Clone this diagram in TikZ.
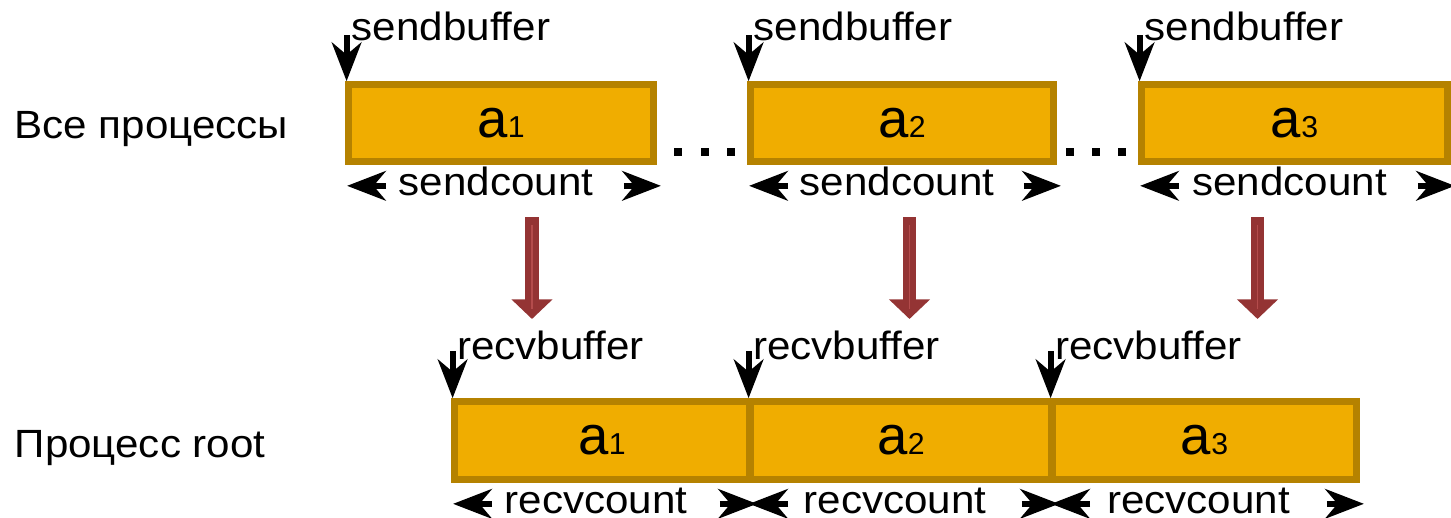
\documentclass[tikz,border=0pt]{standalone}
\usepackage{fontspec}
\setmainfont{Liberation Sans}
\usetikzlibrary{arrows.meta,calc}
\definecolor{boxdark}{HTML}{B58200}
\definecolor{boxfill}{HTML}{F0AD00}
\definecolor{redarr}{HTML}{943434}
\definecolor{redline}{HTML}{B44C4C}
\newcommand{\hs}[1]{\scalebox{1.07}[1]{#1}}
\newcommand{\elem}[1]{\raisebox{-1pt}{\fontsize{15.5}{16}\selectfont a\fontsize{8.6}{9}\selectfont #1}}
\tikzset{
  lbl/.style={inner sep=0pt, anchor=base west, font=\fontsize{11.2}{13}\selectfont},
  membox/.style={draw=boxdark, fill=boxfill, line width=1.6pt, inner sep=0pt, minimum height=0.78cm},
  innerline/.style={draw=boxdark, line width=0.45pt},
  ptr/.style={line width=1.7pt, -{Stealth[length=11pt, width=8.4pt, inset=3.5pt]}},
  redarrow/.style={draw=redarr, line width=3.7pt, -{Triangle[length=5.6pt, width=11.4pt]}},
  dotsq/.style={rectangle, fill=black, inner sep=0pt, minimum size=0.08cm},
}
\begin{document}
\begin{tikzpicture}[x=0.01cm, y=-0.01cm]
\useasboundingbox (0,0) rectangle (1451,518);

% row labels
\node[lbl] (lall) at (14,138) {\hs{Все процессы}};
\node[lbl] (lroot) at (14,457) {\hs{Процесс root}};

% top boxes
\node[membox, minimum width=3.06cm] (s1) at (501,123) {\elem{1}};
\node[membox, minimum width=3.04cm] (s2) at (902,123) {\elem{2}};
\node[membox, minimum width=3.07cm] (s3) at (1294.5,123) {\elem{3}};

% bottom boxes
\node[membox, minimum width=2.96cm, minimum height=0.79cm] (r1) at (602,440.5) {\elem{1}};
\node[membox, minimum width=3.02cm, minimum height=0.79cm] (r2) at (901,440.5) {\elem{2}};
\node[membox, minimum width=3.05cm, minimum height=0.79cm] (r3) at (1204.5,440.5) {\elem{3}};

% inner lines
\foreach \n in {s1,s2,s3,r1,r2,r3}{
  \draw[innerline] ($(\n.north west)+(6,6)$) rectangle ($(\n.south east)+(-6,-6)$);
}

% sendbuffer / sendcount
\foreach \n in {s1,s2,s3}{
  \node[lbl] (\n buf) at ($(\n.north west)+(6,-41)$) {\hs{sendbuffer}};
  \coordinate (\n ptr) at ($(\n.north west)+(1.5,-46)$);
  \draw[ptr] (\n ptr) -- (\n ptr |- \n.north);
  \coordinate (\n cl) at ($(\n.south west)+(41,21)$);
  \coordinate (\n cla) at ($(\n.south west)+(2,21)$);
  \coordinate (\n cr) at ($(\n.south east)+(-33,21)$);
  \coordinate (\n cra) at ($(\n.south east)+(4,21)$);
  \draw[ptr] (\n cl) -- (\n cla);
  \draw[ptr] (\n cr) -- (\n cra);
  \node[lbl, anchor=base] (\n cnt) at ($(\n.south)+(-5,31)$) {\hs{sendcount}};
}

% recvbuffer / recvcount
\foreach \n in {r1,r2,r3}{
  \node[lbl] (\n buf) at ($(\n.north west)+(5.5,-39)$) {\hs{recvbuffer}};
  \coordinate (\n ptr) at ($(\n.north west)+(1.5,-47)$);
  \draw[ptr] (\n ptr) -- (\n ptr |- \n.north);
  \coordinate (\n cl) at ($(\n.south west)+(41,21)$);
  \coordinate (\n cla) at ($(\n.south west)+(2,21)$);
  \coordinate (\n cr) at ($(\n.south east)+(-33,21)$);
  \coordinate (\n cra) at ($(\n.south east)+(4,21)$);
  \draw[ptr] (\n cl) -- (\n cla);
  \draw[ptr] (\n cr) -- (\n cra);
  \node[lbl, anchor=base] (\n cnt) at ($(\n.south)+(-6,31)$) {\hs{recvcount}};
}

% dots
\node[dotsq] (d1) at (678,152) {};
\node[dotsq] (d2) at (704.5,152) {};
\node[dotsq] (d3) at (731,152) {};
\node[dotsq] (d4) at (1070,152) {};
\node[dotsq] (d5) at (1096,152) {};
\node[dotsq] (d6) at (1122,152) {};

% red arrows
\foreach \i/\x in {1/532,2/909.5,3/1257.5}{
  \coordinate (ra\i) at (\x,217);
  \coordinate (rb\i) at (\x,319);
  \draw[redarrow] (ra\i) -- (rb\i);
  \draw[redline, line width=0.4pt] ($(ra\i)+(0,8)$) -- ($(rb\i)+(0,-10)$);
}
\end{tikzpicture}
\end{document}
